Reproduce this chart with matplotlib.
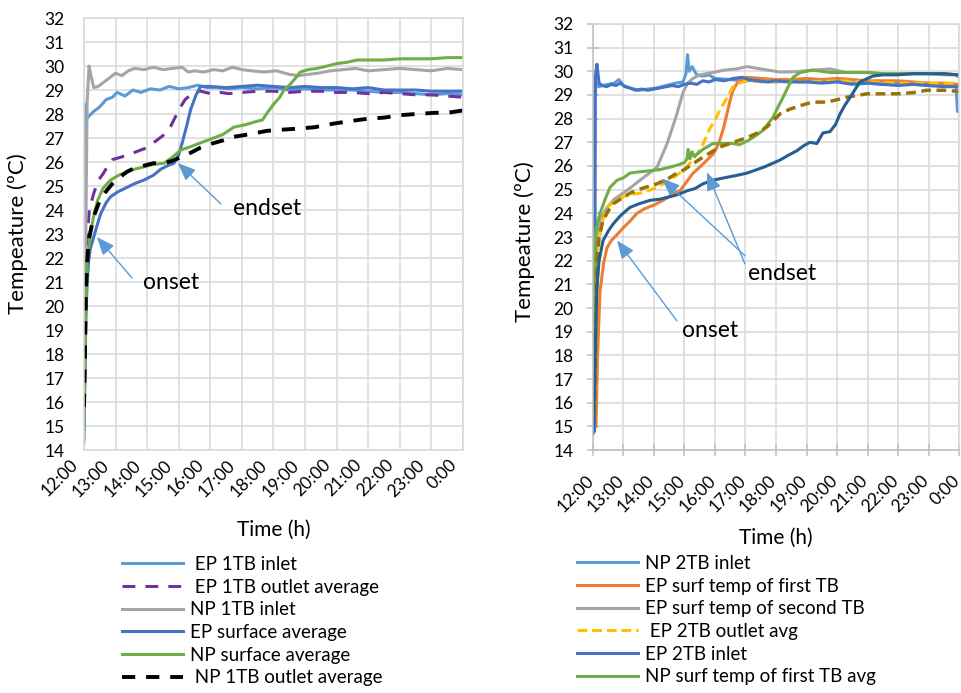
import matplotlib
matplotlib.use("Agg")
import matplotlib.pyplot as plt
import matplotlib.transforms as mtransforms

plt.rcParams['font.family'] = ['Lato', 'DejaVu Sans']

# time in hours after 12:00
tick_labels = ["12:00", "13:00", "14:00", "15:00", "16:00", "17:00", "18:00",
               "19:00", "20:00", "21:00", "22:00", "23:00", "0:00"]

# ---------------- left panel (1TB) ----------------
ep1_inlet_t = [0, 0.03, 0.08, 0.15, 0.3, 0.5, 0.7, 0.9, 1.05, 1.3, 1.55, 1.8, 2.1, 2.4, 2.7, 3.0,
               3.3, 3.6, 3.9, 4.2, 4.6, 5.0, 5.5, 6.0, 6.5, 7.0, 7.5, 8.0, 8.5, 9.0, 9.5, 10.0,
               10.5, 11.0, 11.5, 12.0]
ep1_inlet = [14.5, 28.4, 27.8, 27.9, 28.1, 28.3, 28.6, 28.7, 28.9, 28.75, 29.0, 28.9, 29.05, 29.0,
             29.15, 29.05, 29.1, 29.2, 29.1, 29.1, 29.05, 29.1, 29.05, 29.1, 29.0, 29.05, 29.0,
             29.0, 29.0, 28.95, 28.9, 28.9, 28.85, 28.8, 28.85, 28.8]

ep1_outlet_t = [0.08, 0.12, 0.17, 0.31, 0.46, 0.6, 0.74, 0.9, 1.16, 1.4, 1.6, 1.8, 2.0, 2.3, 2.5,
                2.75, 2.9, 3.06, 3.2, 3.38, 3.55, 3.7, 4.0, 4.3, 4.6, 5.0, 5.5, 6.0, 6.5, 7.0,
                7.5, 8.0, 8.5, 9.0, 9.5, 10.0, 10.5, 11.0, 11.5, 12.0]
ep1_outlet = [22.5, 23.2, 24.0, 24.7, 25.25, 25.5, 25.8, 26.1, 26.2, 26.3, 26.4, 26.5, 26.6, 26.9,
              27.1, 27.5, 27.9, 28.3, 28.6, 28.8, 28.95, 28.95, 28.85, 28.9, 28.85, 28.9, 28.95,
              28.95, 28.9, 28.95, 28.95, 28.9, 28.9, 28.85, 28.9, 28.85, 28.8, 28.8, 28.75, 28.7]

np1_inlet_t = [0, 0.05, 0.1, 0.16, 0.22, 0.31, 0.45, 0.6, 0.8, 1.0, 1.2, 1.4, 1.6, 1.9, 2.2, 2.5,
               2.8, 3.1, 3.3, 3.5, 3.8, 4.1, 4.4, 4.7, 5.0, 5.3, 5.7, 6.1, 6.5, 6.8, 7.1, 7.4,
               7.8, 8.2, 8.6, 9.0, 9.5, 10.0, 10.5, 11.0, 11.5, 12.0]
np1_inlet = [14.3, 22.0, 28.5, 30.0, 29.6, 29.1, 29.15, 29.3, 29.5, 29.7, 29.6, 29.8, 29.9, 29.85,
             29.95, 29.85, 29.9, 29.95, 29.75, 29.8, 29.75, 29.85, 29.8, 29.95, 29.85, 29.8,
             29.75, 29.8, 29.65, 29.6, 29.65, 29.7, 29.8, 29.85, 29.9, 29.8, 29.85, 29.9, 29.85,
             29.8, 29.9, 29.85]

ep_surf_t = [0.0, 0.03, 0.06, 0.1, 0.15, 0.2, 0.27, 0.4, 0.53, 0.7, 0.84, 1.06, 1.37, 1.6, 1.9,
             2.2, 2.43, 2.65, 2.85, 3.0, 3.11, 3.25, 3.38, 3.55, 3.69, 4.0, 4.5, 5.0, 5.5, 6.0,
             6.5, 7.0, 7.5, 8.0, 8.5, 9.0, 9.5, 10.0, 10.5, 11.0, 11.5, 12.0]
ep_surf = [14.9, 17.0, 19.5, 21.0, 21.9, 22.4, 22.7, 23.3, 23.85, 24.3, 24.55, 24.75, 24.95, 25.1,
           25.25, 25.45, 25.7, 25.85, 25.95, 26.3, 26.8, 27.5, 28.2, 28.8, 29.15, 29.15, 29.1,
           29.15, 29.2, 29.15, 29.1, 29.15, 29.1, 29.1, 29.05, 29.1, 29.0, 29.0, 29.0, 28.95,
           28.95, 28.95]

np_surf_t = [0.0, 0.03, 0.06, 0.1, 0.2, 0.3, 0.43, 0.6, 0.84, 1.1, 1.37, 1.6, 1.9, 2.2, 2.53, 2.8,
             3.06, 3.4, 3.69, 4.0, 4.4, 4.74, 5.1, 5.48, 5.65, 5.8, 6.0, 6.2, 6.33, 6.5, 6.7,
             6.85, 7.1, 7.38, 7.7, 8.0, 8.3, 8.65, 9.0, 9.5, 10.0, 10.5, 11.0, 11.5, 12.0]
np_surf = [14.9, 17.5, 20.0, 21.8, 23.0, 23.7, 24.4, 24.9, 25.25, 25.45, 25.6, 25.7, 25.8, 25.9,
           25.95, 26.2, 26.5, 26.65, 26.8, 26.95, 27.15, 27.45, 27.55, 27.7, 27.75, 28.05, 28.4,
           28.7, 29.0, 29.2, 29.5, 29.75, 29.85, 29.9, 30.0, 30.1, 30.15, 30.25, 30.25, 30.25,
           30.3, 30.3, 30.3, 30.35, 30.35]

np1_outlet_t = [0.0, 0.03, 0.06, 0.1, 0.15, 0.3, 0.5, 0.68, 0.9, 1.06, 1.37, 1.6, 1.9, 2.2, 2.53,
                2.8, 3.06, 3.4, 3.69, 4.0, 4.4, 4.74, 5.2, 5.8, 6.3, 6.85, 7.3, 7.9, 8.4, 8.96,
                9.5, 10.0, 10.5, 11.1, 11.5, 12.0]
np1_outlet = [15.8, 18.0, 20.5, 21.8, 22.75, 23.7, 24.4, 24.75, 25.1, 25.3, 25.6, 25.75, 25.85,
              25.95, 25.95, 26.05, 26.2, 26.4, 26.6, 26.75, 26.9, 27.05, 27.15, 27.3, 27.35,
              27.4, 27.45, 27.6, 27.7, 27.8, 27.85, 27.95, 28.0, 28.05, 28.05, 28.15]

# ---------------- right panel (2TB) ----------------
np2_inlet_t = [0.0, 0.05, 0.12, 0.2, 0.3, 0.5, 0.7, 0.85, 1.0, 1.2, 1.5, 1.8, 2.1, 2.4, 2.7, 2.95,
               3.05, 3.1, 3.15, 3.25, 3.4, 3.6, 3.8, 4.0, 4.5, 5.0, 5.5, 6.0, 6.5, 7.0, 7.5, 8.0,
               8.5, 9.0, 9.5, 10.0, 10.5, 11.0, 11.5, 11.9, 11.95, 12.0]
np2_inlet = [14.8, 29.0, 29.5, 29.35, 29.4, 29.45, 29.5, 29.65, 29.4, 29.3, 29.2, 29.25, 29.3,
             29.4, 29.5, 29.55, 29.9, 30.7, 30.0, 30.2, 29.85, 29.8, 29.85, 29.7, 29.65, 29.6,
             29.65, 29.55, 29.6, 29.6, 29.55, 29.6, 29.5, 29.5, 29.45, 29.5, 29.45, 29.4, 29.4,
             29.35, 28.3, 28.3]

ep_first_t = [0.1, 0.15, 0.23, 0.35, 0.46, 0.6, 0.79, 1.0, 1.2, 1.44, 1.7, 2.0, 2.3, 2.6, 2.85,
              3.05, 3.28, 3.5, 3.7, 3.93, 4.05, 4.16, 4.28, 4.39, 4.5, 4.59, 4.75, 5.05, 5.5,
              6.0, 6.5, 7.0, 7.5, 8.0, 8.5, 9.0, 9.5, 10.0, 10.5, 11.0, 11.5, 12.0]
ep_first = [15.0, 18.0, 20.7, 21.9, 22.55, 22.85, 23.1, 23.4, 23.65, 24.0, 24.2, 24.35, 24.55,
            24.8, 24.95, 25.3, 25.7, 25.95, 26.2, 26.5, 26.75, 27.1, 27.6, 28.2, 28.8, 29.2,
            29.55, 29.75, 29.7, 29.65, 29.65, 29.7, 29.65, 29.7, 29.65, 29.6, 29.6, 29.6, 29.55,
            29.5, 29.5, 29.45]

ep_second_t = [0.05, 0.08, 0.13, 0.25, 0.46, 0.7, 0.98, 1.25, 1.54, 1.8, 2.1, 2.25, 2.43, 2.6,
               2.75, 2.95, 3.1, 3.28, 3.5, 3.93, 4.3, 4.7, 5.05, 5.5, 6.13, 6.6, 7.2, 7.77, 8.3,
               9.0, 9.5, 10.0, 10.5, 11.0, 11.5, 12.0]
ep_second = [15.5, 20.0, 23.1, 23.8, 24.25, 24.6, 24.85, 25.1, 25.4, 25.65, 25.95, 26.4, 26.95,
             27.6, 28.2, 29.1, 29.5, 29.7, 29.85, 29.95, 30.05, 30.1, 30.2, 30.1, 29.97, 29.98,
             30.05, 30.1, 29.95, 29.95, 29.9, 29.9, 29.9, 29.9, 29.85, 29.85]

ep2_outlet_t = [0.05, 0.1, 0.16, 0.3, 0.46, 0.7, 0.98, 1.25, 1.54, 1.8, 2.1, 2.52, 2.95, 3.2,
                3.41, 3.6, 3.84, 4.0, 4.16, 4.4, 4.59, 4.8, 5.05, 5.5, 6.0, 7.0, 8.0, 9.0, 10.0,
                11.0, 12.0]
ep2_outlet = [15.0, 19.0, 22.55, 23.6, 24.25, 24.5, 24.7, 24.8, 24.85, 24.95, 25.1, 25.4, 25.8,
              26.15, 26.5, 26.9, 27.6, 27.95, 28.35, 28.9, 29.35, 29.5, 29.6, 29.55, 29.55,
              29.55, 29.6, 29.55, 29.5, 29.5, 29.5]

ep2_inlet_t = [0.05, 0.08, 0.13, 0.2, 0.3, 0.45, 0.6, 0.75, 0.9, 1.05, 1.2, 1.4, 1.6, 1.8, 2.0,
               2.2, 2.4, 2.6, 2.8, 3.0, 3.2, 3.4, 3.6, 3.8, 4.0, 4.3, 4.6, 4.9, 5.1, 5.4, 5.7,
               6.0, 6.5, 7.0, 7.5, 8.0, 8.5, 9.0, 9.5, 10.0, 10.5, 11.0, 11.5, 12.0]
ep2_inlet = [14.8, 29.8, 30.3, 29.5, 29.4, 29.35, 29.45, 29.4, 29.5, 29.35, 29.3, 29.2, 29.25,
             29.2, 29.25, 29.3, 29.35, 29.4, 29.35, 29.45, 29.5, 29.45, 29.6, 29.55, 29.65,
             29.6, 29.7, 29.75, 29.65, 29.6, 29.55, 29.6, 29.55, 29.55, 29.5, 29.55, 29.45,
             29.5, 29.45, 29.4, 29.45, 29.4, 29.35, 29.35]

np_first_t = [0.03, 0.07, 0.15, 0.23, 0.4, 0.56, 0.79, 1.0, 1.21, 1.5, 1.87, 2.2, 2.52, 2.8, 3.0,
              3.08, 3.12, 3.18, 3.25, 3.32, 3.41, 3.6, 3.93, 4.2, 4.59, 4.8, 5.05, 5.3, 5.57,
              5.9, 6.05, 6.23, 6.4, 6.56, 6.8, 7.2, 7.5, 7.77, 8.5, 9.0, 9.5, 10.0, 10.5, 11.0,
              11.5, 11.9, 12.0]
np_first = [15.5, 23.1, 23.6, 24.0, 24.6, 25.1, 25.4, 25.5, 25.7, 25.75, 25.8, 25.85, 25.95,
            26.05, 26.15, 26.3, 26.7, 26.3, 26.6, 26.4, 26.5, 26.7, 26.95, 26.95, 26.95, 26.9,
            27.05, 27.25, 27.5, 28.05, 28.45, 28.9, 29.35, 29.75, 29.95, 30.05, 30.0, 29.95,
            29.95, 29.95, 29.9, 29.9, 29.9, 29.9, 29.9, 29.85, 29.75]

np2_outlet_t = [0.05, 0.1, 0.13, 0.2, 0.33, 0.5, 0.66, 0.9, 1.21, 1.6, 2.1, 2.45, 2.75, 3.0,
                3.28, 3.7, 4.16, 4.6, 5.05, 5.4, 5.7, 6.13, 6.45, 6.79, 7.2, 7.67, 8.0, 8.3,
                8.98, 9.5, 9.97, 10.5, 10.95, 11.5, 12.0]
np2_outlet = [15.5, 19.5, 22.0, 23.0, 23.7, 24.1, 24.4, 24.6, 24.85, 25.05, 25.25, 25.45, 25.7,
              25.85, 26.1, 26.45, 26.8, 27.0, 27.2, 27.4, 27.65, 28.2, 28.4, 28.55, 28.7, 28.7,
              28.8, 28.9, 29.05, 29.05, 29.05, 29.1, 29.2, 29.2, 29.15]

np_second_t = [0.0, 0.05, 0.1, 0.13, 0.2, 0.33, 0.5, 0.66, 0.9, 1.21, 1.5, 1.87, 2.2, 2.52, 2.8,
               3.08, 3.35, 3.61, 3.93, 4.3, 4.7, 5.05, 5.6, 6.13, 6.4, 6.69, 6.9, 7.11, 7.34,
               7.54, 7.77, 7.95, 8.1, 8.25, 8.43, 8.6, 8.75, 9.0, 9.18, 9.5, 9.97, 10.5, 11.0,
               11.5, 12.0]
np_second = [14.7, 16.5, 19.5, 20.85, 22.0, 22.85, 23.25, 23.55, 23.9, 24.25, 24.4, 24.55, 24.6,
             24.7, 24.8, 24.95, 25.05, 25.25, 25.4, 25.5, 25.6, 25.7, 25.95, 26.25, 26.45, 26.65,
             26.85, 27.0, 26.95, 27.4, 27.45, 27.75, 28.2, 28.55, 28.9, 29.25, 29.55, 29.7, 29.8,
             29.85, 29.85, 29.9, 29.9, 29.9, 29.85]

grid_col = '#D9D9D9'
arrow_col = '#5B9BD5'

fig = plt.figure(figsize=(9.62, 6.93), dpi=100)
ax1 = fig.add_axes([0.0873, 0.3506, 0.394, 0.6234])
ax2 = fig.add_axes([0.6164, 0.3506, 0.3805, 0.6148])

lw = 2.2
ax1.plot(ep1_inlet_t, ep1_inlet, color='#5B9BD5', lw=lw, label=' EP 1TB inlet')
ax1.plot(ep1_outlet_t, ep1_outlet, color='#7030A0', lw=lw, dashes=(4.2, 3.3), label=' EP 1TB outlet average')
ax1.plot(np1_inlet_t, np1_inlet, color='#A5A5A5', lw=lw, label='NP 1TB inlet')
ax1.plot(ep_surf_t, ep_surf, color='#4472C4', lw=lw, label='EP surface average')
ax1.plot(np_surf_t, np_surf, color='#70AD47', lw=lw, label='NP surface average')
ax1.plot(np1_outlet_t, np1_outlet, color='black', lw=2.8, dashes=(3.4, 2.8), label=' NP 1TB outlet average')

ax2.plot(np2_inlet_t, np2_inlet, color='#5B9BD5', lw=lw, label='NP 2TB inlet')
ax2.plot(ep_first_t, ep_first, color='#ED7D31', lw=lw, label='EP surf temp of first TB')
ax2.plot(ep_second_t, ep_second, color='#A5A5A5', lw=lw, label='EP surf temp of second TB')
ax2.plot(ep2_outlet_t, ep2_outlet, color='#FFC000', lw=lw, dashes=(3.2, 1.6), label=' EP 2TB outlet avg')
ax2.plot(ep2_inlet_t, ep2_inlet, color='#4472C4', lw=lw, label='EP 2TB inlet')
ax2.plot(np_first_t, np_first, color='#70AD47', lw=lw, label='NP surf temp of first TB avg')
ax2.plot(np2_outlet_t, np2_outlet, color='#997300', lw=2.5, dashes=(2.8, 1.6))
ax2.plot(np_second_t, np_second, color='#255E91', lw=lw)

for ax in (ax1, ax2):
    ax.set_xlim(0, 12)
    ax.set_ylim(14, 32)
    ax.set_xticks(range(13))
    ax.set_xticklabels(tick_labels)
    ax.set_yticks(range(14, 33))
    ax.grid(True, color=grid_col, lw=1.1)
    ax.set_axisbelow(True)
    for s in ax.spines.values():
        s.set_color(grid_col)
        s.set_linewidth(1.1)
    ax.tick_params(labelsize=12.5, colors='black')
    for lab in ax.get_xticklabels():
        lab.set_rotation(45)
        lab.set_ha('right')
        lab.set_va('center')
        lab.set_rotation_mode('anchor')

ax1.tick_params(length=0)
ax1.tick_params(axis='y', pad=14)
ax1.tick_params(axis='x', pad=9)
off1 = mtransforms.ScaledTranslation(-9 / 100, 0, fig.dpi_scale_trans)
for lab in ax1.get_xticklabels():
    lab.set_transform(lab.get_transform() + off1)

ax2.tick_params(direction='inout', length=8, color='#BFBFBF', width=1.1)
ax2.tick_params(axis='y', pad=10)
ax2.tick_params(axis='x', pad=16)
ax2.spines['left'].set_color('#BFBFBF')
ax2.spines['bottom'].set_color('#BFBFBF')
off2 = mtransforms.ScaledTranslation(-2 / 100, 0, fig.dpi_scale_trans)
for lab in ax2.get_xticklabels():
    lab.set_transform(lab.get_transform() + off2)

ax1.set_ylabel('Tempeature (ºC)', fontsize=16)
ax1.yaxis.set_label_coords(-0.148, 0.5)
ax2.set_ylabel('Tempeature (ºC)', fontsize=16)
ax2.yaxis.set_label_coords(-0.158, 0.49)

fig.text(0.2843, 1 - 530 / 693, 'Time (h)', ha='center', va='center', fontsize=15)
fig.text(0.8067, 1 - 538 / 693, 'Time (h)', ha='center', va='center', fontsize=15)

# annotations
ap = dict(arrowstyle='-|>,head_length=1.1,head_width=0.45', color=arrow_col, lw=1.0,
          mutation_scale=10, shrinkA=0, shrinkB=0)
ax1.text(4.72, 24.08, 'endset', fontsize=16.5, va='center')
ax1.annotate('', xy=(2.97, 25.96), xytext=(4.34, 24.25), arrowprops=ap)
ax1.text(1.87, 21.0, 'onset', fontsize=16.5, va='center')
ax1.annotate('', xy=(0.41, 22.875), xytext=(1.52, 21.17), arrowprops=ap)

ax2.text(5.08, 21.45, 'endset', fontsize=16.5, va='center')
ax2.annotate('', xy=(2.26, 25.47), xytext=(4.98, 22.21), arrowprops=ap)
ax2.annotate('', xy=(3.74, 25.73), xytext=(4.98, 21.87), arrowprops=ap)
ax2.text(2.92, 19.03, 'onset', fontsize=16.5, va='center')
ax2.annotate('', xy=(0.79, 22.85), xytext=(2.75, 19.46), arrowprops=ap)

leg_kw = dict(frameon=False, fontsize=13.5, handlelength=3.25, handletextpad=0.37,
              labelspacing=0.3, borderpad=0, borderaxespad=0, loc='upper left')
h1, l1 = ax1.get_legend_handles_labels()
fig.legend(h1, l1, bbox_to_anchor=(122 / 962, 1 - 556 / 693), **leg_kw)
h2, l2 = ax2.get_legend_handles_labels()
fig.legend(h2[:6], l2[:6], bbox_to_anchor=(577 / 962, 1 - 555 / 693), **leg_kw)

fig.savefig('out.png', dpi=100)
